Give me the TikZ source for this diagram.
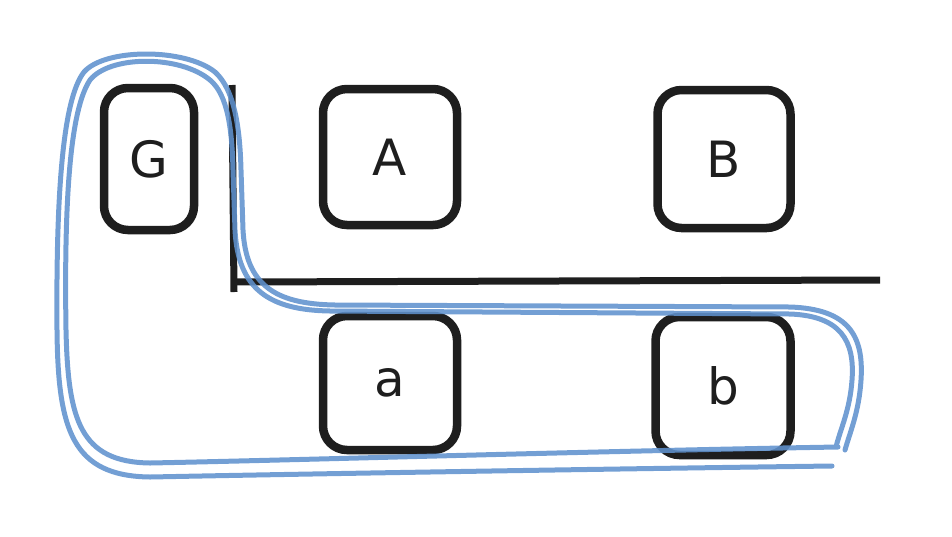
\documentclass[tikz,border=0pt]{standalone}
\usepackage{fontspec}
\setmainfont{DejaVu Sans}
\definecolor{ink}{RGB}{30,30,30}
\definecolor{loop}{RGB}{96,146,206}
\begin{document}
\begin{tikzpicture}[x=1pt,y=-1pt,
  card/.style={draw=ink, line width=8.5pt, rounded corners=24pt, fill=none, inner sep=0pt,
    font=\fontsize{50}{52}\selectfont, text=ink},
  rule/.style={draw=ink, line width=7pt},
  lasso/.style={draw=loop, line width=5pt, opacity=0.88, line cap=round, line join=round}]
\useasboundingbox (0,0) rectangle (952,536);
\node[card, minimum width=90pt, minimum height=142pt] (G) at (149,159) {G};
\node[card, minimum width=134pt, minimum height=136pt] (A) at (390,157) {A};
\node[card, minimum width=133pt, minimum height=138pt] (B) at (724,159) {B};
\node[card, minimum width=134pt, minimum height=134pt] (a) at (390,383) {a};
\node[card, minimum width=135pt, minimum height=138pt] (b) at (723,386) {b};
\coordinate (vt) at (232,85);
\coordinate (corner) at (234,282);
\coordinate (hr) at (880,280);
\draw[rule] (vt) -- (234,292);
\draw[rule] (corner) -- (hr);
\draw[lasso] (838,447) .. controls (600,451) and (300,460) .. (150,463)
  .. controls (80,462) and (68,420) .. (66,330)
  .. controls (64,200) and (70,110) .. (90,80)
  .. controls (110,55) and (180,55) .. (210,80)
  .. controls (228,95) and (232,130) .. (233,170)
  -- (235,230)
  .. controls (238,290) and (270,310) .. (330,311)
  -- (790,314)
  .. controls (840,316) and (855,340) .. (852,380)
  .. controls (850,410) and (840,430) .. (836,447);
\draw[lasso] (832,466) .. controls (600,469) and (300,474) .. (150,477)
  .. controls (72,476) and (58,430) .. (57,330)
  .. controls (56,200) and (62,100) .. (84,72)
  .. controls (105,48) and (185,48) .. (215,72)
  .. controls (235,90) and (240,130) .. (241,170)
  -- (243,230)
  .. controls (246,285) and (275,304) .. (335,305)
  -- (790,307)
  .. controls (848,309) and (864,335) .. (861,380)
  .. controls (859,412) and (850,432) .. (845,450);
\end{tikzpicture}
\end{document}
